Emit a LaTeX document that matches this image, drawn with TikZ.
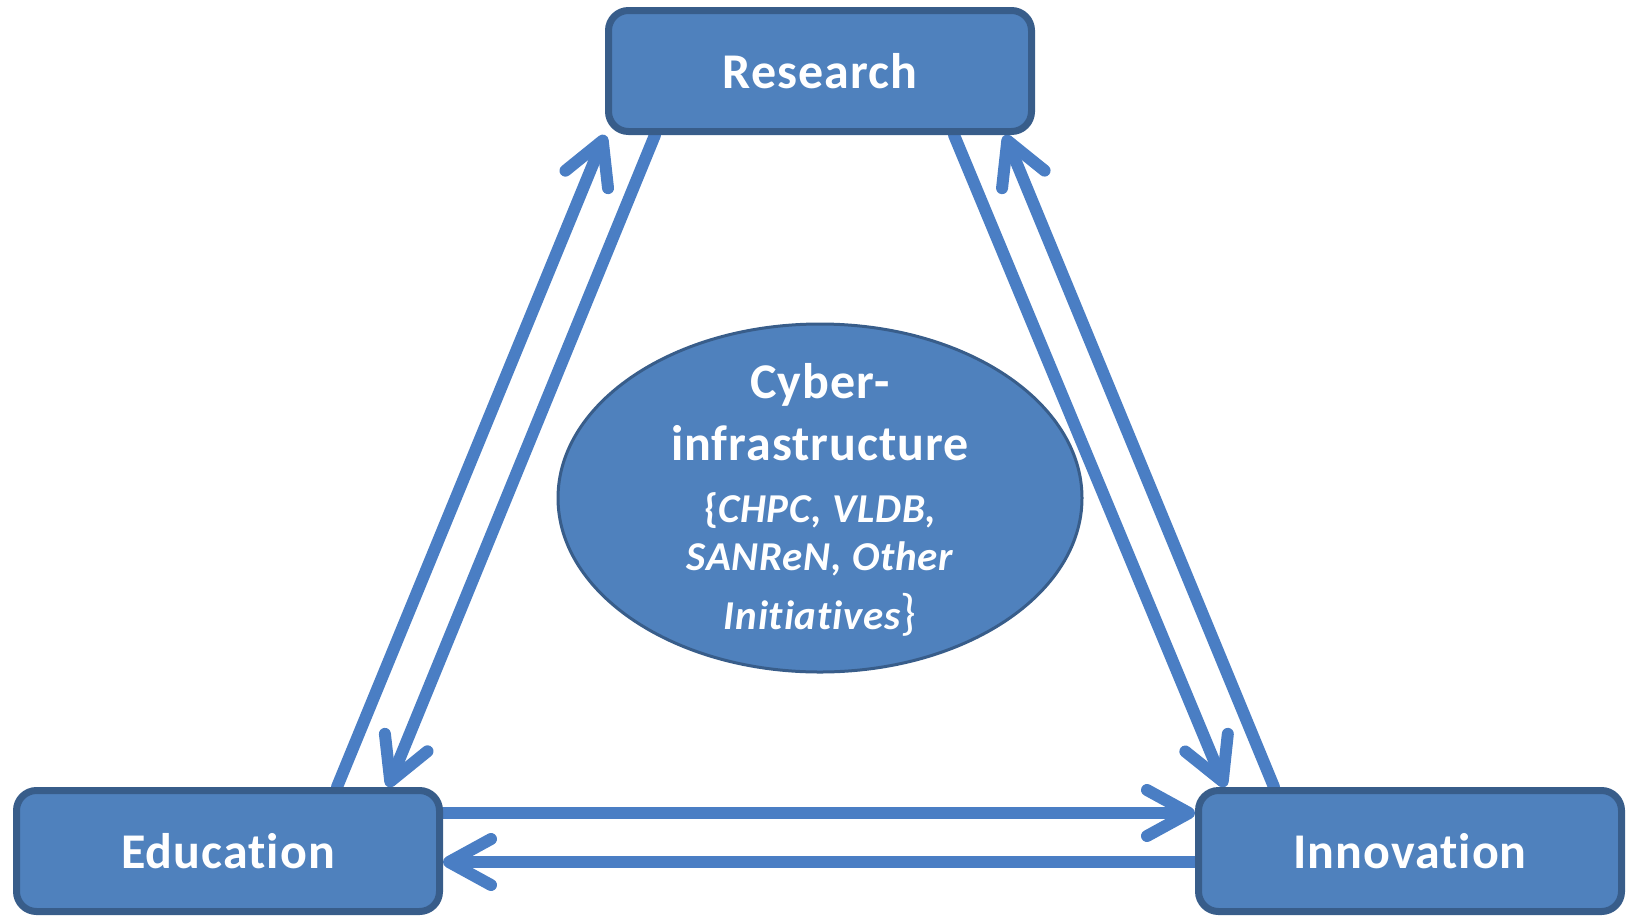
\documentclass[tikz,border=0pt]{standalone}
\usepackage{fontspec}
\setmainfont{Carlito}[Ligatures=NoCommon, LetterSpace=2]
\usetikzlibrary{arrows.meta,shapes.geometric,calc}
\pgfdeclarelayer{bg}
\pgfsetlayers{bg,main}
\definecolor{boxfill}{HTML}{4F81BD}
\definecolor{boxline}{HTML}{385D8A}
\definecolor{arrowblue}{HTML}{4A7EC4}
\begin{document}
\begin{tikzpicture}[x=0.5pt,y=-0.5pt,
  box/.style={draw=boxline, fill=boxfill, line width=3.5pt, rounded corners=10pt,
    minimum width=211.5pt, minimum height=60.5pt, inner sep=0pt, text=white,
    font=\fontsize{25}{30}\selectfont\bfseries},
  arr/.style={draw=arrowblue, line width=6pt, line cap=round,
    -{Straight Barb[length=21pt,width=23pt,line cap=round,line join=round]}},
  cyberstyle/.style={ellipse, draw=boxline, fill=boxfill, line width=1.5pt,
    minimum width=262pt, minimum height=174pt, inner sep=0pt},
  cybertextstyle/.style={align=center, text=white, inner sep=0pt,
    font=\fontsize{25}{31}\selectfont\bfseries},
]
\useasboundingbox (0,0) rectangle (1626,916);

\node[box] (res) at (820,71) {Research};
\node[box] (edu) at (228,851) {Education};
\node[box] (inn) at (1410,851) {Innovation};

\node[cyberstyle] (cyber) at (820,498) {};
\node[cybertextstyle] (cybertext) at ($(cyber.center)+(0,2)$)
  {Cyber-\\infrastructure\\
   {\fontsize{20.5}{24}\selectfont\itshape{\upshape\{}CHPC, VLDB,}\\[-7pt]
   {\fontsize{20.5}{24}\selectfont\itshape SANReN, Other}\\[-1.5pt]
   {\fontsize{20.5}{24}\selectfont\itshape Initiatives}{\mdseries\}}};

\begin{pgfonlayer}{bg}
\draw[arr] ($(edu.north)+(109,0)$) -- (res.south west);
\draw[arr] ($(res.south)+(-165,0)$) -- ($(edu.north)+(160,0)$);
\draw[arr] ($(res.south)+(134,0)$) -- ($(inn.north)+(-185,0)$);
\draw[arr] ($(inn.north)+(-136,0)$) -- ($(res.south)+(185,0)$);
\draw[arr] ($(edu.east)+(0,-38)$) -- ($(inn.west)+(0,-38)$);
\draw[arr] ($(inn.west)+(0,11)$) -- ($(edu.east)+(0,11)$);
\end{pgfonlayer}
\end{tikzpicture}
\end{document}
